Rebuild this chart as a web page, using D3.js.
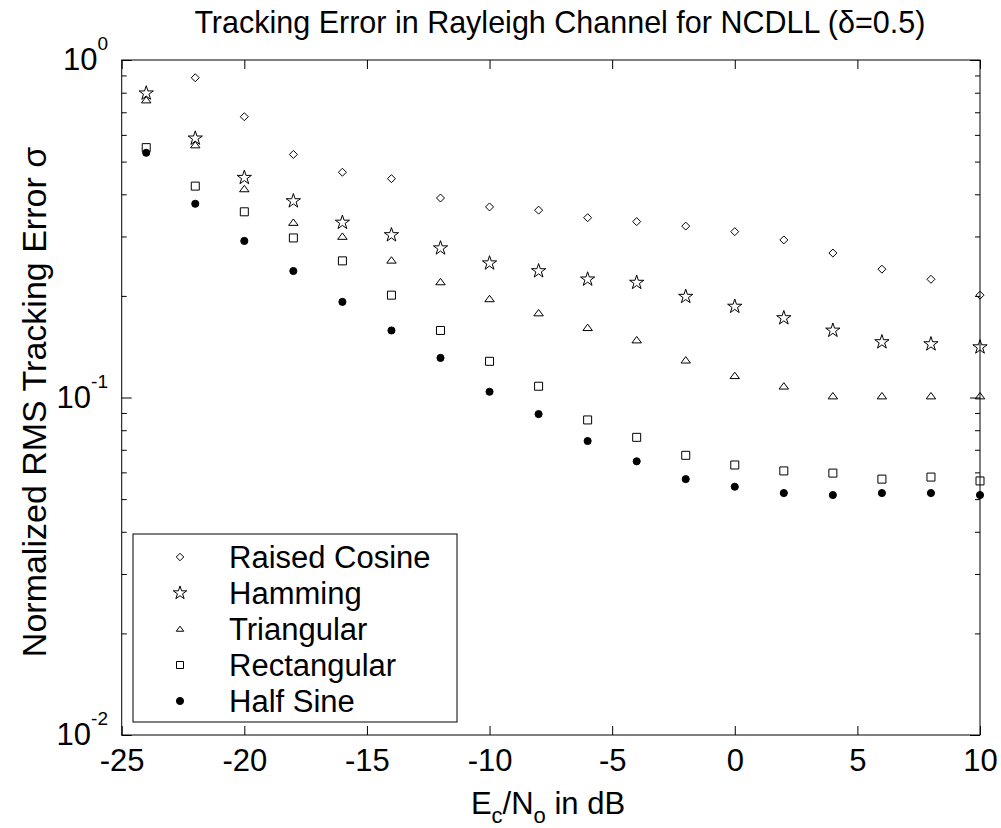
<!DOCTYPE html>
<html>
<head>
<meta charset="utf-8">
<script src="https://cdn.jsdelivr.net/npm/d3@7"></script>
<style>
body { margin: 0; background: #fff; }
text { font-family: "Liberation Sans", Arial, sans-serif; fill: #000; }
</style>
</head>
<body>
<div id="chart"></div>
<script>
// Ec/No in dB
var snr = [-24, -22, -20, -18, -16, -14, -12, -10, -8, -6, -4, -2, 0, 2, 4, 6, 8, 10];

// normalized RMS tracking error per pulse shape
var raisedCosine = [null, 0.886, 0.679, 0.525, 0.465, 0.445, 0.390, 0.367, 0.359, 0.341, 0.332, 0.322, 0.310, 0.293, 0.268, 0.240, 0.224, 0.201];
var hamming      = [0.797, 0.586, 0.448, 0.382, 0.330, 0.303, 0.277, 0.250, 0.237, 0.224, 0.219, 0.199, 0.186, 0.172, 0.158, 0.146, 0.144, 0.141];
var triangular   = [0.761, 0.560, 0.415, 0.330, 0.300, 0.255, 0.220, 0.196, 0.178, 0.161, 0.148, 0.129, 0.116, 0.108, 0.101, 0.101, 0.101, 0.101];
var rectangular  = [0.550, 0.423, 0.355, 0.297, 0.254, 0.201, 0.158, 0.128, 0.108, 0.0858, 0.0762, 0.0674, 0.0631, 0.0606, 0.0597, 0.0573, 0.0581, 0.0566];
var halfSine     = [0.531, 0.375, 0.291, 0.237, 0.192, 0.158, 0.131, 0.104, 0.0893, 0.0743, 0.0647, 0.0573, 0.0544, 0.0521, 0.0514, 0.0521, 0.0521, 0.0514];

var seriesNames = ["Raised Cosine", "Hamming", "Triangular", "Rectangular", "Half Sine"];
var seriesValues = [raisedCosine, hamming, triangular, rectangular, halfSine];

var xTicks = [-25, -20, -15, -10, -5, 0, 5, 10];
var yMajor = [0.01, 0.1, 1];
var yExp = ["-2", "-1", "0"];

var width = 1001, height = 828;
var mLeft = 121.7, mRight = 980, mTop = 60, mBottom = 735;

var svg = d3.select("#chart").append("svg")
    .attr("width", width)
    .attr("height", height);

var x = d3.scaleLinear().domain([-25, 10]).range([mLeft, mRight]);
var y = d3.scaleLog().domain([0.01, 1]).range([mBottom, mTop]);

// 自定义的标记形状
var diamond = { draw: function(c, s) { var r = Math.sqrt(s) / 2; c.moveTo(0, -r); c.lineTo(r, 0); c.lineTo(0, r); c.lineTo(-r, 0); c.closePath(); } };
var square = { draw: function(c, s) { var r = Math.sqrt(s) / 2; c.rect(-r, -r, 2 * r, 2 * r); } };
var triangle = { draw: function(c, s) { var r = Math.sqrt(s) / 2; c.moveTo(0, -r * 0.75); c.lineTo(r, r * 0.6); c.lineTo(-r, r * 0.6); c.closePath(); } };
var star = { draw: function(c, s) {
    var R = Math.sqrt(s) / 2, ri = R * 0.382;
    for (var i = 0; i < 10; i++) {
        var a = -Math.PI / 2 + i * Math.PI / 5, rr = i % 2 ? ri : R;
        var px = rr * Math.cos(a), py = rr * Math.sin(a);
        if (i === 0) c.moveTo(px, py); else c.lineTo(px, py);
    }
    c.closePath();
} };

var markerTypes = [diamond, star, triangle, square, d3.symbolCircle];
var markerSizes = [64, 225, 90, 64, 40];
var legendSizes = [56, 200, 56, 49, 40];
var markerFill = ["none", "none", "none", "none", "#000"];

// 坐标轴刻度
var minor = [];
[0.01, 0.1].forEach(function(d) { for (var k = 2; k <= 9; k++) minor.push(d * k); });

function noDomain(g) { g.select(".domain").remove(); g.selectAll("line").attr("stroke", "#000"); }

svg.append("g").attr("transform", "translate(0," + mBottom + ")")
    .call(d3.axisBottom(x).tickValues(xTicks).tickSize(-9).tickPadding(14).tickFormat(function(d) { return String(d); }))
    .call(noDomain)
    .selectAll("text").style("font-size", "31px").style("font-family", "Liberation Sans, Arial, sans-serif");
svg.append("g").attr("transform", "translate(0," + mTop + ")")
    .call(d3.axisTop(x).tickValues(xTicks).tickSize(-9).tickFormat(""))
    .call(noDomain);

svg.append("g").attr("transform", "translate(" + mLeft + ",0)")
    .call(d3.axisLeft(y).tickValues(yMajor).tickSize(-10).tickFormat(""))
    .call(noDomain);
svg.append("g").attr("transform", "translate(" + mLeft + ",0)")
    .call(d3.axisLeft(y).tickValues(minor).tickSize(-5).tickFormat(""))
    .call(noDomain);
svg.append("g").attr("transform", "translate(" + mRight + ",0)")
    .call(d3.axisRight(y).tickValues(yMajor).tickSize(-10).tickFormat(""))
    .call(noDomain);
svg.append("g").attr("transform", "translate(" + mRight + ",0)")
    .call(d3.axisRight(y).tickValues(minor).tickSize(-5).tickFormat(""))
    .call(noDomain);

// y 轴的 10^n 标签
yMajor.forEach(function(v, i) {
    var t = svg.append("text")
        .attr("x", 108)
        .attr("y", y(v) + 10)
        .attr("text-anchor", "end")
        .style("font-size", "31px");
    t.append("tspan").text("10");
    t.append("tspan").attr("dy", -20).style("font-size", "19px").text(yExp[i]);
});

svg.append("rect")
    .attr("x", mLeft).attr("y", mTop)
    .attr("width", mRight - mLeft).attr("height", mBottom - mTop)
    .attr("fill", "none").attr("stroke", "#000").attr("stroke-width", 1);

// 绘制数据点
seriesValues.forEach(function(vals, i) {
    var pts = snr.map(function(s, j) { return { x: s, v: vals[j] }; }).filter(function(d) { return d.v != null; });
    svg.append("g").selectAll("path")
        .data(pts)
        .enter().append("path")
        .attr("transform", function(d) { return "translate(" + x(d.x) + "," + y(d.v) + ")"; })
        .attr("d", d3.symbol().type(markerTypes[i]).size(markerSizes[i]))
        .attr("fill", markerFill[i])
        .attr("stroke", "#000")
        .attr("stroke-width", 1);
});

// 图例
var lg = svg.append("g");
lg.append("rect")
    .attr("x", 133).attr("y", 534)
    .attr("width", 324).attr("height", 188)
    .attr("fill", "#fff").attr("stroke", "#000");
seriesNames.forEach(function(name, i) {
    var cy = 557 + i * 36;
    lg.append("path")
        .attr("transform", "translate(180," + cy + ")")
        .attr("d", d3.symbol().type(markerTypes[i]).size(legendSizes[i]))
        .attr("fill", markerFill[i])
        .attr("stroke", "#000");
    lg.append("text")
        .attr("x", 229).attr("y", cy + 11)
        .style("font-size", "31px")
        .text(name);
});

// 标题和轴标签
svg.append("text")
    .attr("x", (mLeft + mRight) / 2 + 9).attr("y", 33)
    .attr("text-anchor", "middle")
    .style("font-size", "30.5px")
    .text("Tracking Error in Rayleigh Channel for NCDLL (\u03b4=0.5)");

var xl = svg.append("text")
    .attr("x", 548).attr("y", 814)
    .attr("text-anchor", "middle")
    .style("font-size", "31px");
xl.append("tspan").text("E");
xl.append("tspan").attr("dy", 9).style("font-size", "22px").text("c");
xl.append("tspan").attr("dy", -9).text("/N");
xl.append("tspan").attr("dy", 9).style("font-size", "22px").text("o");
xl.append("tspan").attr("dy", -9).text(" in dB");

svg.append("text")
    .attr("transform", "translate(46,402) rotate(-90)")
    .attr("text-anchor", "middle")
    .style("font-size", "34px")
    .text("Normalized RMS Tracking Error \u03c3");
</script>
</body>
</html>
